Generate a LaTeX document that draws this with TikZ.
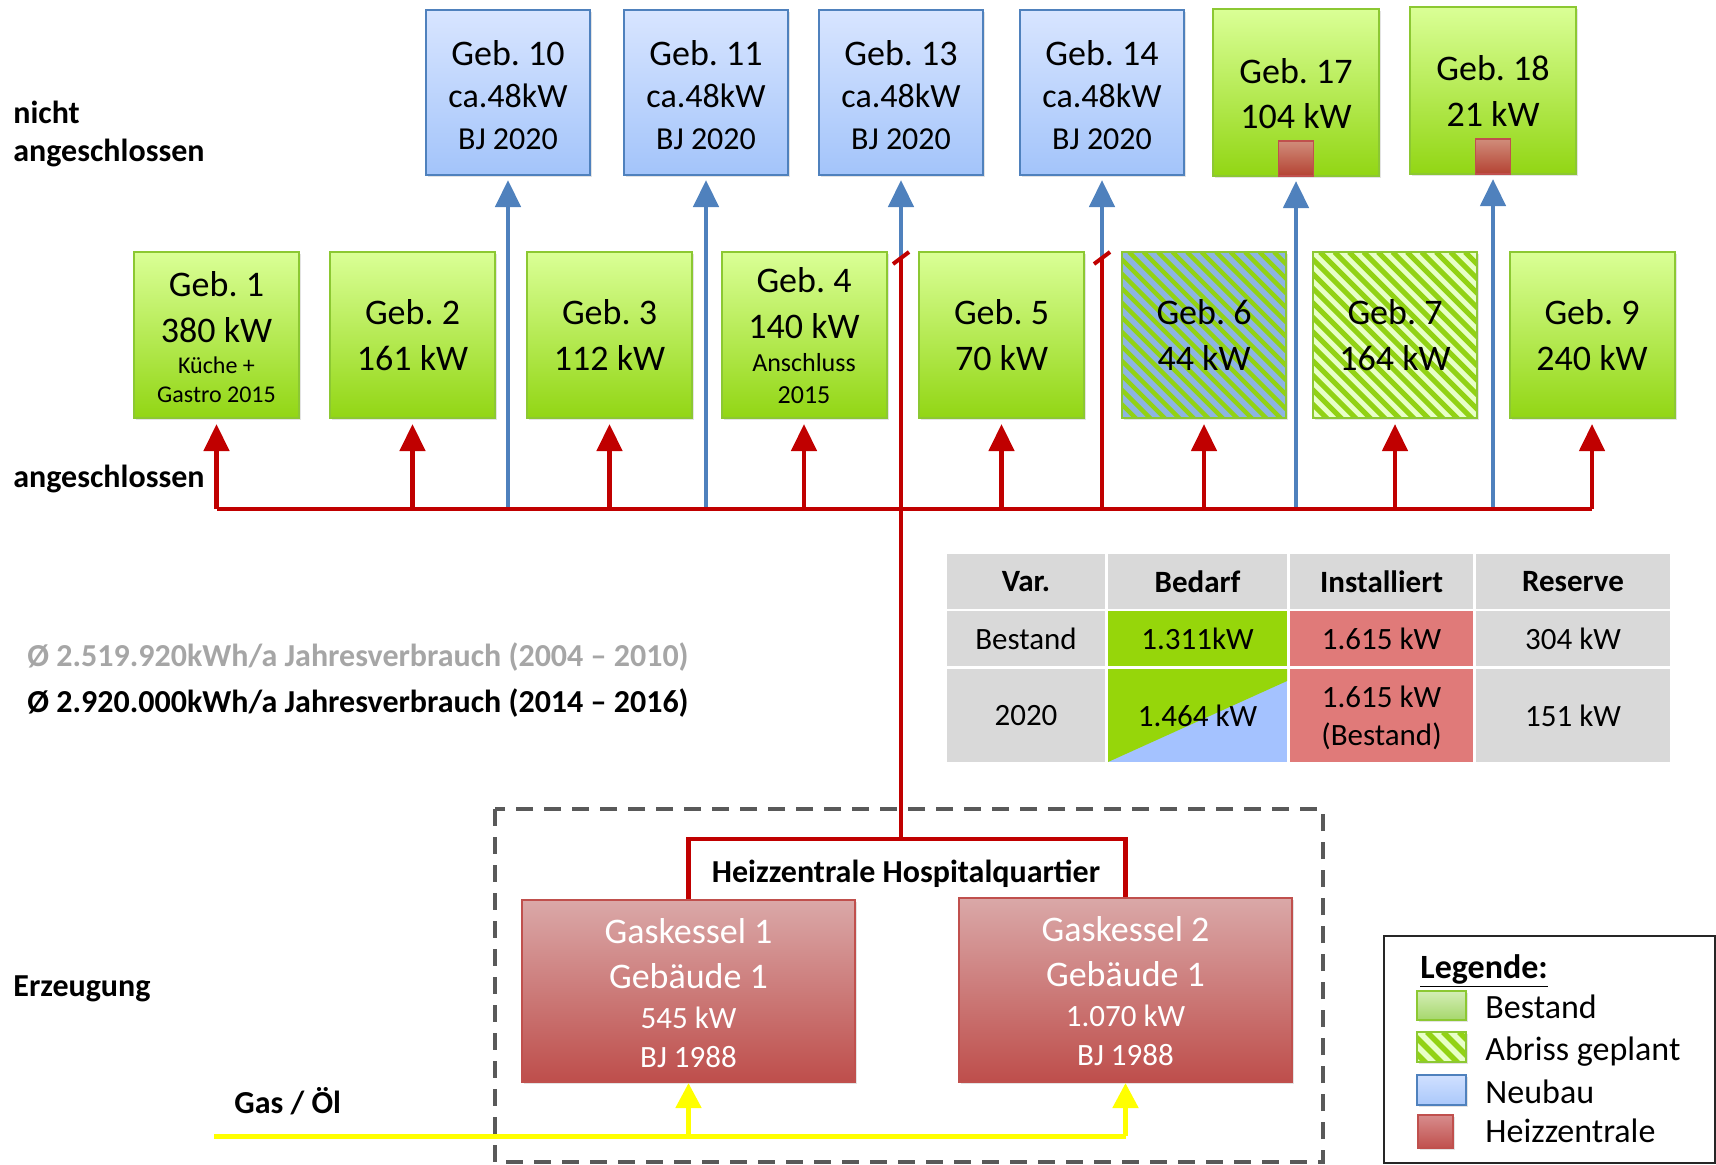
\documentclass[tikz,border=0pt]{standalone}
\usepackage{fontspec}
\setmainfont{Carlito}
\usetikzlibrary{arrows.meta,shadows}
\frenchspacing

\definecolor{gTop}{RGB}{218,255,150}
\definecolor{gBot}{RGB}{146,214,20}
\definecolor{gBorder}{RGB}{140,200,50}
\definecolor{bTop}{RGB}{216,229,255}
\definecolor{bBot}{RGB}{163,196,250}
\definecolor{bBorder}{RGB}{79,129,189}
\definecolor{rTop}{RGB}{218,168,168}
\definecolor{rBot}{RGB}{190,78,75}
\definecolor{rBorder}{RGB}{192,80,77}
\definecolor{sqTop}{RGB}{208,140,122}
\definecolor{sqBot}{RGB}{180,66,50}
\definecolor{lineRed}{RGB}{192,0,0}
\definecolor{lineBlue}{RGB}{79,129,189}
\definecolor{lineYellow}{RGB}{255,255,0}
\definecolor{dashGray}{RGB}{89,89,89}
\definecolor{cellGray}{RGB}{217,217,217}
\definecolor{cellGreen}{RGB}{150,214,10}
\definecolor{cellRed}{RGB}{224,122,121}
\definecolor{cellBlue}{RGB}{164,194,255}
\definecolor{stripeBlue}{RGB}{141,180,226}
\definecolor{stripeGreen}{RGB}{146,210,20}
\definecolor{stripeLight}{RGB}{232,255,200}
\definecolor{textGray}{RGB}{166,166,166}
\definecolor{lgTop}{RGB}{212,238,182}
\definecolor{lgBot}{RGB}{166,215,108}
\definecolor{lbTop}{RGB}{208,224,255}
\definecolor{lbBot}{RGB}{170,200,250}
\definecolor{lrTop}{RGB}{215,140,140}
\definecolor{lrBot}{RGB}{192,80,77}

\tikzset{
  box/.style={rectangle, inner sep=0pt, line width=1pt,
    drop shadow={opacity=0.22, shadow xshift=1.2pt, shadow yshift=-1.2pt}},
  gbox/.style={box, draw=gBorder, top color=gTop, bottom color=gBot,
    minimum width=82.5pt, minimum height=83pt},
  topgbox/.style={box, draw=gBorder, top color=gTop, bottom color=gBot,
    minimum width=83pt, minimum height=83.5pt},
  bbox/.style={box, draw=bBorder, top color=bTop, bottom color=bBot,
    minimum width=82pt, minimum height=82.5pt},
  hbox/.style={box, draw=rBorder, top color=rTop, bottom color=rBot,
    minimum width=166.5pt, minimum height=91pt},
  sqbox/.style={rectangle, inner sep=0pt, minimum size=17.5pt, line width=0.9pt,
    draw=rBorder, top color=sqTop, bottom color=sqBot},
  hatchblue/.style={box, draw=gBorder, fill=stripeBlue,
    minimum width=82pt, minimum height=83pt,
    path picture={\foreach \k in {-196,-181.5,...,190}{
      \draw[stripeGreen, line width=2.2pt]
        (path picture bounding box.north west) ++(\k,0) -- ++(210,210);}}},
  hatchlight/.style={box, draw=gBorder, fill=stripeLight,
    minimum width=82pt, minimum height=83pt,
    path picture={\foreach \k in {-196,-181.5,...,190}{
      \draw[stripeGreen, line width=2.5pt]
        (path picture bounding box.north west) ++(\k,0) -- ++(210,210);}}},
  tA/.style={anchor=base, inner sep=0pt, font=\fontsize{18}{21}\selectfont},
  tB/.style={anchor=base, inner sep=0pt, font=\fontsize{17}{20}\selectfont},
  tC/.style={anchor=base, inner sep=0pt, font=\fontsize{16}{19}\selectfont},
  tD/.style={anchor=base, inner sep=0pt, font=\fontsize{15.5}{19}\selectfont},
  tE/.style={anchor=base, inner sep=0pt, font=\fontsize{13}{15}\selectfont},
  tF/.style={anchor=base, inner sep=0pt, font=\fontsize{12}{14}\selectfont},
  wA/.style={tA, text=white},
  wD/.style={tD, text=white},
  lbl/.style={anchor=base west, inner sep=0pt, font=\bfseries\fontsize{16}{19}\selectfont},
  lblc/.style={anchor=base, inner sep=0pt, font=\bfseries\fontsize{16}{19}\selectfont},
  legtxt/.style={anchor=base west, inner sep=0pt, font=\fontsize{17}{20}\selectfont},
  cell/.style={rectangle, inner sep=0pt, fill=cellGray, align=center,
    font=\fontsize{15.5}{19}\selectfont},
  hcell/.style={cell, font=\bfseries\fontsize{15.5}{19}\selectfont},
  colA/.style={minimum width=79pt},
  colB/.style={minimum width=89.5pt},
  colC/.style={minimum width=91.5pt},
  colD/.style={minimum width=97pt},
  rowA/.style={minimum height=27.5pt},
  rowC/.style={minimum height=46.5pt},
  rline/.style={draw=lineRed, line width=2.25pt},
  bline/.style={draw=lineBlue, line width=2.25pt},
  yline/.style={draw=lineYellow, line width=2.5pt},
  rarrow/.style={rline, -{Triangle[length=13.5pt,width=12.5pt]}, shorten >=2.5pt},
  barrow/.style={bline, -{Triangle[length=13.5pt,width=12.5pt]}, shorten >=2pt},
  yarrow/.style={yline, -{Triangle[length=12.5pt,width=12.5pt]}},
  dashbox/.style={draw=dashGray, line width=2pt, dash pattern=on 8.5pt off 5.5pt},
  legswatch/.style={rectangle, inner sep=0pt, line width=0.8pt,
    drop shadow={opacity=0.22, shadow xshift=1pt, shadow yshift=-1pt}}
}

\begin{document}
\begin{tikzpicture}[x=0.5pt,y=-0.5pt]
\useasboundingbox (0,0) rectangle (1716,1164);

% dashed frame of the heating centre
\draw[dashbox] (495,809) rectangle (1323,1162);

% ---------------- top row (not connected) ----------------
\node[bbox] (g10) at (508,92.5) {};
\node[bbox] (g11) at (706,92.5) {};
\node[bbox] (g13) at (901,92.5) {};
\node[bbox] (g14) at (1102,92.5) {};
\node[topgbox] (g17) at (1296,92.5) {};
\node[topgbox] (g18) at (1493,90.5) {};
\node[sqbox, anchor=south] (sq17) at (g17.south) {};
\node[sqbox, anchor=south] (sq18) at (g18.south) {};

\node[tA] (g10a) at (508,65) {Geb. 10};
\node[tB] (g10b) at (508,107) {ca.48kW};
\node[tC] (g10c) at (508,149) {BJ 2020};
\node[tA] (g11a) at (706,65) {Geb. 11};
\node[tB] (g11b) at (706,107) {ca.48kW};
\node[tC] (g11c) at (706,149) {BJ 2020};
\node[tA] (g13a) at (901,65) {Geb. 13};
\node[tB] (g13b) at (901,107) {ca.48kW};
\node[tC] (g13c) at (901,149) {BJ 2020};
\node[tA] (g14a) at (1102,65) {Geb. 14};
\node[tB] (g14b) at (1102,107) {ca.48kW};
\node[tC] (g14c) at (1102,149) {BJ 2020};
\node[tA] (g17a) at (1296,83) {Geb. 17};
\node[tA] (g17b) at (1296,128) {104 kW};
\node[tA] (g18a) at (1493,80) {Geb. 18};
\node[tA] (g18b) at (1493,126) {21 kW};

% ---------------- middle row (connected) ----------------
\node[gbox] (g1) at (216.5,335) {};
\node[gbox] (g2) at (412.5,335) {};
\node[gbox] (g3) at (609.5,335) {};
\node[gbox] (g4) at (804,335) {};
\node[gbox] (g5) at (1001.5,335) {};
\node[hatchblue] (g6) at (1204,335) {};
\node[hatchlight] (g7) at (1395,335) {};
\node[gbox] (g9) at (1592,335) {};

\node[tA] (g1a) at (216.5,296) {Geb. 1};
\node[tA] (g1b) at (216.5,342) {380 kW};
\node[tF] (g1c) at (216.5,373) {Küche +};
\node[tF] (g1d) at (216.5,402) {Gastro 2015};
\node[tA] (g2a) at (412.5,324) {Geb. 2};
\node[tA] (g2b) at (412.5,370) {161 kW};
\node[tA] (g3a) at (609.5,324) {Geb. 3};
\node[tA] (g3b) at (609.5,370) {112 kW};
\node[tA] (g4a) at (804,292) {Geb. 4};
\node[tA] (g4b) at (804,338) {140 kW};
\node[tE] (g4c) at (804,371) {Anschluss};
\node[tE] (g4d) at (804,403) {2015};
\node[tA] (g5a) at (1001.5,324) {Geb. 5};
\node[tA] (g5b) at (1001.5,370) {70 kW};
\node[tA] (g6a) at (1204,324) {Geb. 6};
\node[tA] (g6b) at (1204,370) {44 kW};
\node[tA] (g7a) at (1395,324) {Geb. 7};
\node[tA] (g7b) at (1395,370) {164 kW};
\node[tA] (g9a) at (1592,324) {Geb. 9};
\node[tA] (g9b) at (1592,370) {240 kW};

% ---------------- left labels ----------------
\node[lbl] (lnicht) at (13,123) {nicht};
\node[lbl] (lnicht2) at (13,161) {angeschlossen};
\node[lbl] (langes) at (13,487) {angeschlossen};
\node[lbl] (lerz) at (13,996) {Erzeugung};
\node[lbl, text=textGray] (stat1) at (27,666) {Ø 2.519.920kWh/a Jahresverbrauch (2004 – 2010)};
\node[lbl] (stat2) at (27,712) {Ø 2.920.000kWh/a Jahresverbrauch (2014 – 2016)};
\node[lbl] (gas) at (234,1113) {Gas / Öl};

% ---------------- table ----------------
\node[hcell, colA, rowA] (t11) at (1026,581.5) {Var.};
\node[hcell, colB, rowA] (t12) at (1197.5,581.5) {Bedarf};
\node[hcell, colC, rowA] (t13) at (1381.5,581.5) {Installiert};
\node[hcell, colD, rowA] (t14) at (1573,581.5) {Reserve};
\node[cell, colA, rowA] (t21) at (1026,638.5) {Bestand};
\node[cell, colB, rowA, fill=cellGreen] (t22) at (1197.5,638.5) {1.311kW};
\node[cell, colC, rowA, fill=cellRed] (t23) at (1381.5,638.5) {1.615 kW};
\node[cell, colD, rowA] (t24) at (1573,638.5) {304 kW};
\node[cell, colA, rowC] (t31) at (1026,715.5) {2020};
\node[cell, colB, rowC, fill=cellBlue,
  path picture={\fill[cellGreen] (path picture bounding box.north west)
    -- (path picture bounding box.north east) -- ++(0,12)
    -- (path picture bounding box.south west) -- cycle;}] (t32) at (1197.5,715.5) {1.464 kW};
\node[cell, colC, rowC, fill=cellRed, text depth=0pt] (t33) at (1381.5,715.5) {1.615 kW\\(Bestand)};
\node[cell, colD, rowC] (t34) at (1573,715.5) {151 kW};

% ---------------- heating centre ----------------
\node[hbox] (gk1) at (688.5,991) {};
\node[hbox, minimum height=92pt] (gk2) at (1125.5,990) {};
\node[wA] (gk1a) at (688.5,943) {Gaskessel 1};
\node[wA] (gk1b) at (688.5,988) {Gebäude 1};
\node[wD] (gk1c) at (688.5,1028) {545 kW};
\node[wD] (gk1d) at (688.5,1067) {BJ 1988};
\node[wA] (gk2a) at (1125.5,941) {Gaskessel 2};
\node[wA] (gk2b) at (1125.5,986) {Gebäude 1};
\node[wD] (gk2c) at (1125.5,1026) {1.070 kW};
\node[wD] (gk2d) at (1125.5,1065) {BJ 1988};
\node[lblc] (hzlabel) at (906,882) {Heizzentrale Hospitalquartier};

% ---------------- legend ----------------
\draw[draw=black!85, line width=0.8pt] (1384,936) rectangle (1715,1163);
\node[anchor=base west, inner sep=0pt, font=\bfseries\fontsize{17}{20}\selectfont] (legtitle) at (1420,978) {\underline{Legende:}};
\node[legswatch, draw=gBorder, top color=lgTop, bottom color=lgBot,
  minimum width=24.5pt, minimum height=14.5pt] (ls1) at (1441.5,1005.5) {};
\node[legswatch, draw=gBorder, fill=stripeLight, minimum width=24.5pt, minimum height=15pt,
  path picture={\foreach \k in {-70,-54,...,60}{
    \draw[stripeGreen, line width=2.8pt]
      (path picture bounding box.north west) ++(\k,0) -- ++(80,80);}}] (ls2) at (1441.5,1047) {};
\node[legswatch, draw=bBorder, top color=lbTop, bottom color=lbBot,
  minimum width=24.5pt, minimum height=15pt] (ls3) at (1441.5,1090) {};
\node[legswatch, draw=rBorder, top color=lrTop, bottom color=lrBot,
  minimum width=17.5pt, minimum height=16.5pt] (ls4) at (1435.5,1131.5) {};
\node[legtxt] (lt1) at (1485,1018) {Bestand};
\node[legtxt] (lt2) at (1485,1060) {Abriss geplant};
\node[legtxt] (lt3) at (1485,1103) {Neubau};
\node[legtxt] (lt4) at (1485,1142) {Heizzentrale};

% ---------------- connectors ----------------
\coordinate (busL) at (216.5,509);
\coordinate (busR) at (1592,509);
\coordinate (s13) at (901,258);
\coordinate (s14) at (1102,258);
\coordinate (hz) at (901,839);
\coordinate (gasL) at (214,1136);

% blue supply lines to new buildings
\draw[barrow] (g10.south |- busL) -- (g10.south);
\draw[barrow] (g11.south |- busL) -- (g11.south);
\draw[barrow] (g17.south |- busL) -- (sq17.south);
\draw[barrow] (g18.south |- busL) -- (sq18.south);
\draw[barrow] (s13) -- (g13.south);
\draw[barrow] (s14) -- (g14.south);

% red network
\draw[rline] (busL) -- (busR);
\draw[rline] (s14) -- (s14 |- busL);
\draw[rline] (s13) -- (hz);
\draw[rline] (gk1.north) |- (hz) -| (gk2.north);
\draw[rline, line width=2pt] (s13) ++(-8,6) -- ++(16,-12);
\draw[rline, line width=2pt] (s14) ++(-8,6) -- ++(16,-12);

\draw[rarrow] (busL) -- (g1.south);
\draw[rarrow] (g2.south |- busL) -- (g2.south);
\draw[rarrow] (g3.south |- busL) -- (g3.south);
\draw[rarrow] (g4.south |- busL) -- (g4.south);
\draw[rarrow] (g5.south |- busL) -- (g5.south);
\draw[rarrow] (g6.south |- busL) -- (g6.south);
\draw[rarrow] (g7.south |- busL) -- (g7.south);
\draw[rarrow] (busR) -- (g9.south);

% gas / oil supply
\draw[yline] (gasL) -- (gk2.south |- gasL);
\draw[yarrow] (gk1.south |- gasL) -- (gk1.south);
\draw[yarrow] (gk2.south |- gasL) -- (gk2.south);
\end{tikzpicture}
\end{document}
